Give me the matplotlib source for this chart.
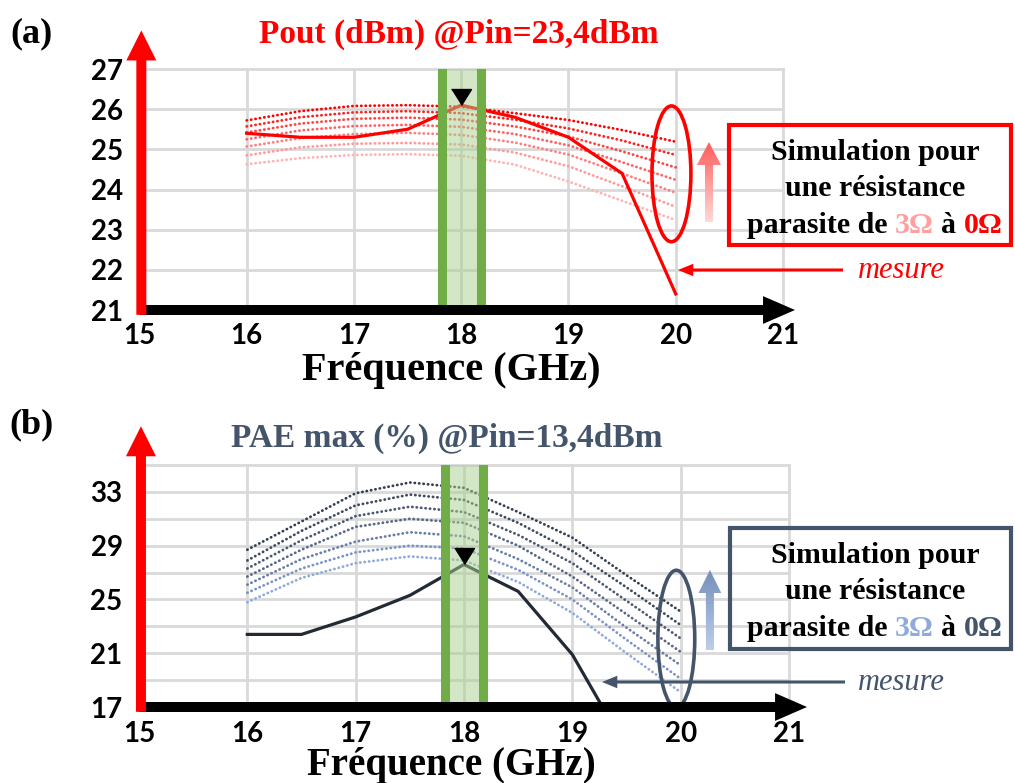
import matplotlib
matplotlib.use('Agg')
import matplotlib.pyplot as plt
import numpy as np
from matplotlib.patches import Ellipse, Rectangle, FancyArrow
from matplotlib.colors import LinearSegmentedColormap

# ---- data ----
freq = [16, 16.5, 17, 17.5, 18, 18.5, 19, 19.5, 20]
freq_ticks = [15, 16, 17, 18, 19, 20, 21]

# (a) Pout (dBm): measured curve and simulations from 0 ohm (top) to 3 ohm (bottom)
pout_mesure = [25.4, 25.3, 25.3, 25.5, 26.1, 25.8, 25.3, 24.4, 21.4]
pout_r0_0 = [25.72, 25.95, 26.08, 26.10, 26.06, 25.90, 25.73, 25.48, 25.19]
pout_r0_5 = [25.57, 25.80, 25.92, 25.95, 25.90, 25.74, 25.52, 25.22, 24.86]
pout_r1_0 = [25.42, 25.64, 25.76, 25.79, 25.74, 25.57, 25.32, 24.95, 24.55]
pout_r1_5 = [25.25, 25.47, 25.58, 25.61, 25.56, 25.38, 25.10, 24.68, 24.24]
pout_r2_0 = [25.07, 25.28, 25.38, 25.41, 25.36, 25.17, 24.87, 24.40, 23.92]
pout_r2_5 = [24.85, 25.05, 25.14, 25.16, 25.12, 24.92, 24.58, 24.08, 23.57]
pout_r3_0 = [24.63, 24.78, 24.86, 24.88, 24.84, 24.62, 24.20, 23.72, 23.24]
pout_ticks = [21, 22, 23, 24, 25, 26, 27]
pout_labels = ['21', '22', '23', '24', '25', '26', '27']

# (b) PAE max (%)
pae_freq_mesure = [16, 16.5, 17, 17.5, 18, 18.5, 19, 19.5]
pae_mesure = [22.4, 22.4, 23.7, 25.3, 27.6, 25.6, 20.9, 13.9]
pae_r0_0 = [28.7, 30.8, 32.9, 33.7, 33.3, 31.5, 29.6, 26.8, 24.1]
pae_r0_5 = [27.9, 30.1, 32.0, 32.8, 32.4, 30.7, 28.6, 25.9, 23.1]
pae_r1_0 = [27.3, 29.4, 31.2, 31.9, 31.5, 29.8, 27.7, 24.9, 22.1]
pae_r1_5 = [26.7, 28.7, 30.4, 31.0, 30.7, 29.0, 26.7, 23.9, 21.1]
pae_r2_0 = [26.1, 28.0, 29.3, 30.0, 29.7, 28.0, 25.9, 22.9, 20.1]
pae_r2_5 = [25.5, 27.3, 28.5, 29.0, 28.8, 27.2, 25.0, 22.0, 19.1]
pae_r3_0 = [24.8, 26.6, 27.7, 28.2, 27.9, 26.3, 24.0, 21.0, 18.1]
pae_ticks = [17, 19, 21, 23, 25, 27, 29, 31, 33, 35]
pae_labels = ['17', '', '21', '', '25', '', '29', '', '33', '']

band = (17.82, 18.18)

# ---- styles ----
W, H = 1015, 783
SERIF = 'Liberation Serif'
SANS = 'Lato'
SLATE = '#44546a'
pout_colors = ['#ff0000', '#ff2222', '#ff4444', '#ff6262', '#ff7f7f', '#ff9a9a', '#ffb3b3']
pae_colors = ['#333f50', '#3e4a5e', '#4a5870', '#576887', '#687ea6', '#7a94c6', '#8eaadb']

fig = plt.figure(figsize=(W / 100, H / 100), dpi=100)


def fx(x):
    return x / W


def fy(y):
    return 1 - y / H


def panel(rect, ylim, yticks, ylabels, simu, colors, mx, my, mcolor, xpad,
          ell, grad, grad_colors, tip_x):
    ax = fig.add_axes(rect)
    ax.patch.set_visible(False)
    for s in ax.spines.values():
        s.set_visible(False)
    ax.set_xticks(freq_ticks)
    ax.set_xticklabels([str(t) for t in freq_ticks])
    ax.set_yticks(yticks)
    ax.set_yticklabels(ylabels)
    ax.tick_params(axis='both', length=0, labelsize=20)
    ax.tick_params(axis='x', pad=xpad)
    ax.tick_params(axis='y', pad=11.8)
    for lab in ax.get_xticklabels() + ax.get_yticklabels():
        lab.set_fontfamily(SANS)
        lab.set_fontweight('bold')
    ax.grid(True, color='#d9d9d9', lw=2)
    ax.set_axisbelow(True)
    for gl in ax.get_xgridlines() + ax.get_ygridlines():
        gl.set_clip_on(False)

    for ys, c in zip(simu, colors):
        ax.plot(freq, ys, color=c, lw=2, ls=(0, (0.1, 1.5)),
                dash_capstyle='round', zorder=2)
    ax.plot(mx, my, color=mcolor, lw=2.3, zorder=3)

    # green band at 18 GHz
    ax.axvspan(band[0], band[1], color='#a9d18e', alpha=0.5, lw=0, zorder=4)
    for b in band:
        ax.axvline(b, color='#70ad47', lw=6.5, zorder=5)

    # black triangle above the measured peak
    i = int(np.argmax(my))
    ax.plot(mx[i], my[i], marker=[(-10, 16), (10, 16), (0, 0)], ms=23,
            color='black', lw=0, zorder=7)

    # ellipse around the 20 GHz simulations
    ax.add_patch(Ellipse(ell[0], ell[1], ell[2], fill=False, ec=ell[3],
                         lw=2.6, zorder=7))

    # gradient arrow
    gx, gy0, gy1, sw, hw, hl = grad
    arr = FancyArrow(gx, gy0, 0, gy1 - gy0, width=sw, head_width=hw,
                     head_length=hl, length_includes_head=True, lw=0,
                     fc='none', zorder=7)
    ax.add_patch(arr)
    cmap = LinearSegmentedColormap.from_list('grad', grad_colors)
    im = ax.imshow(np.linspace(0, 1, 64).reshape(-1, 1), cmap=cmap,
                   extent=(gx - hw, gx + hw, gy0, gy1), origin='lower',
                   aspect='auto', zorder=7)
    im.set_clip_path(arr)

    # axes drawn as arrows
    ax.annotate('', xy=(tip_x, 0), xytext=(0, 0), xycoords='axes fraction',
                arrowprops=dict(arrowstyle='simple,head_length=23,head_width=20,tail_width=7.2',
                                mutation_scale=1, color='black', lw=0,
                                shrinkA=0, shrinkB=0), zorder=8)
    ax.annotate('', xy=(0.003, 1.16), xytext=(0.003, -0.02), xycoords='axes fraction',
                arrowprops=dict(arrowstyle='simple,head_length=21.6,head_width=21.6,tail_width=7.2',
                                mutation_scale=1, color='red', lw=0,
                                shrinkA=0, shrinkB=0), zorder=9)
    ax.set_xlim(15, 21)
    ax.set_ylim(*ylim)
    return ax


ax1 = panel([fx(139.4), fy(310), 643.6 / W, 241 / H], (21, 27), pout_ticks, pout_labels,
            [pout_r0_0, pout_r0_5, pout_r1_0, pout_r1_5, pout_r2_0, pout_r2_5, pout_r3_0],
            pout_colors, freq, pout_mesure, '#ff0000', 9.4,
            ((19.96, 24.39), 0.363, 3.38, '#ff0000'),
            (20.31, 23.19, 25.18, 0.075, 0.224, 0.57), ['#ffd8d8', '#ff5c5c'], 1.0186)

ax2 = panel([fx(139), fy(707), 650 / W, 242 / H], (17, 35), pae_ticks, pae_labels,
            [pae_r0_0, pae_r0_5, pae_r1_0, pae_r1_5, pae_r2_0, pae_r2_5, pae_r3_0],
            pae_colors, pae_freq_mesure, pae_mesure, '#222a35', 10,
            ((19.96, 22.07), 0.34, 10.2, SLATE),
            (20.27, 21.24, 27.19, 0.074, 0.21, 1.71), ['#bccde9', '#7590bd'], 1.0277)

# ---- texts ----
fig.text(fx(32), fy(42), '(a)', fontsize=26, fontweight='bold', family=SERIF,
         ha='center', va='baseline')
fig.text(fx(32), fy(433), '(b)', fontsize=26, fontweight='bold', family=SERIF,
         ha='center', va='baseline')
fig.text(fx(458.5), fy(43), 'Pout (dBm) @Pin=23,4dBm', fontsize=24, fontweight='bold',
         family=SERIF, color='#ff0000', ha='center', va='baseline')
fig.text(fx(446.5), fy(447), 'PAE max (%) @Pin=13,4dBm', fontsize=24, fontweight='bold',
         family=SERIF, color=SLATE, ha='center', va='baseline')
fig.text(fx(451.5), fy(380), 'Fréquence (GHz)', fontsize=29, fontweight='bold',
         family=SERIF, ha='center', va='baseline')
fig.text(fx(451.5), fy(775), 'Fréquence (GHz)', fontsize=28, fontweight='bold',
         family=SERIF, ha='center', va='baseline')

# "mesure" arrows
for ax, y, x0, x1, c in [(ax1, 270, 843, 678, '#ff0000'), (ax2, 682, 845, 602, SLATE)]:
    fig.text(fx(858), fy(y), 'mesure', fontsize=22, style='italic', family=SERIF,
             color=c, ha='left', va='center')
    ax.annotate('', xy=(x1, H - y), xytext=(x0, H - y), xycoords='figure pixels',
                arrowprops=dict(arrowstyle='simple,head_length=11,head_width=9,tail_width=2.2',
                                mutation_scale=1, color=c, lw=0, shrinkA=0, shrinkB=0),
                annotation_clip=False, zorder=10)

# boxes
fig.add_artist(Rectangle((fx(729), fy(245)), 282 / W, 120 / H, transform=fig.transFigure,
                         fill=False, ec='#ff0000', lw=3))
fig.add_artist(Rectangle((fx(730), fy(649)), 281 / W, 121 / H, transform=fig.transFigure,
                         fill=False, ec=SLATE, lw=3))


def colored_line(xc, yb, parts, size=21.5):
    texts = [fig.text(0, fy(yb), s, color=c, fontsize=size, fontweight='bold',
                      family=SERIF, ha='left', va='baseline') for s, c in parts]
    r = fig.canvas.get_renderer()
    widths = [t.get_window_extent(r).width for t in texts]
    gap = 0.25 * size * 100 / 72
    x = xc - (sum(widths) + gap * (len(parts) - 1)) / 2
    for t, w in zip(texts, widths):
        t.set_x(fx(x))
        x += w + gap


for yb, c3, c0 in [(160, '#ff9f9f', '#ff0000'), (563, '#8faadc', SLATE)]:
    colored_line(875, yb, [('Simulation pour', 'black')])
    colored_line(875, yb + 36, [('une résistance', 'black')])
    colored_line(875, yb + 73, [('parasite de', 'black'), ('3Ω', c3),
                                ('à', 'black'), ('0Ω', c0)])

fig.savefig('out.png', dpi=100)
